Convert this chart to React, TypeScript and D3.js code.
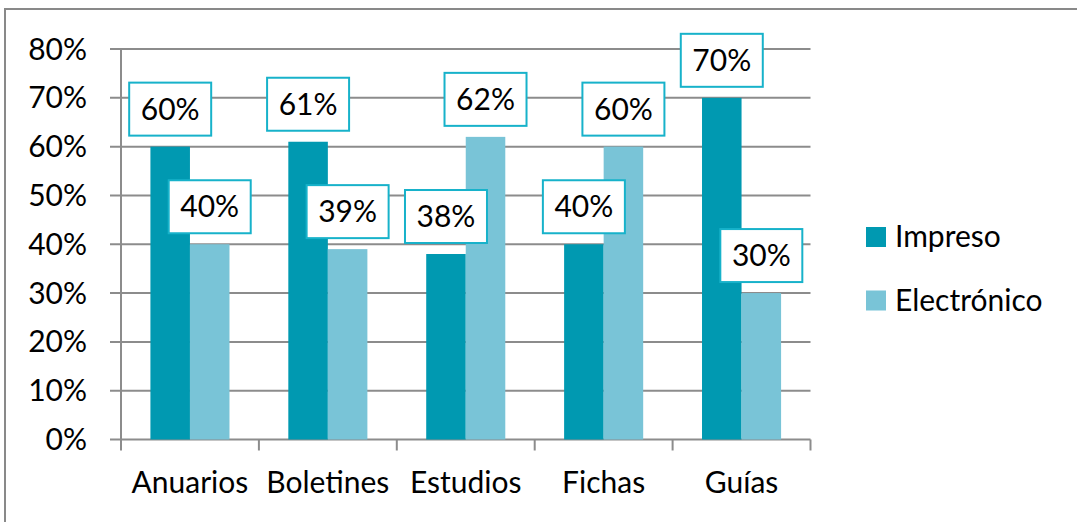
import * as d3 from "d3";

const categories = ["Anuarios", "Boletines", "Estudios", "Fichas", "Guías"];
const seriesNames = ["Impreso", "Electrónico"];
const impreso = [60, 61, 38, 40, 70];
const electronico = [40, 39, 62, 60, 30];
const yTicks = [0, 10, 20, 30, 40, 50, 60, 70, 80];

const colors = ["#0099b1", "#79c4d7"];
const gridColor = "#8c8c8c";
const boxStroke = "#17b2ca";
const font = "Lato, 'Open Sans', sans-serif";
const fontSize = 30;

export default function App() {
  const width = 1077;
  const height = 522;
  const plot = { x1: 121, x2: 810.5, y1: 49, y2: 439.5 };

  const y = d3.scaleLinear().domain([0, 80]).range([plot.y2, plot.y1]);
  const x0 = d3.scaleBand().domain(categories).range([plot.x1, plot.x2]).padding(0);
  const x1 = d3.scaleBand().domain(seriesNames).range([0, x0.bandwidth()])
    .paddingInner(0).paddingOuter(0.744);

  const values = [impreso, electronico];
  const boxW = 82;
  const boxH = 53;
  const boxGap = 11;

  return (
    <svg width={width} height={height} style={{ position: "absolute", left: 0, top: 0, background: "#fff" }}
      fontFamily={font}>
      <rect x={5} y={9} width={1200} height={700} fill="#fff" stroke="#898989" strokeWidth={2} />

      {/* grid + y ticks */}
      {yTicks.map((t) => (
        <g key={t}>
          <line x1={plot.x1 - 11} x2={plot.x2} y1={y(t)} y2={y(t)} stroke={gridColor} strokeWidth={2} />
          <text x={87} y={y(t) + 10.5} textAnchor="end" fontSize={fontSize} fill="#000">{t}%</text>
        </g>
      ))}
      <line x1={plot.x1} x2={plot.x1} y1={plot.y1} y2={plot.y2} stroke={gridColor} strokeWidth={2} />

      {/* x ticks */}
      {[...categories.map((c) => x0(c)!), plot.x2].map((v, i) => (
        <line key={i} x1={v} x2={v} y1={plot.y2} y2={plot.y2 + 11} stroke={gridColor} strokeWidth={2} />
      ))}
      {categories.map((c) => (
        <text key={c} x={x0(c)! + x0.bandwidth() / 2} y={493} textAnchor="middle" fontSize={fontSize} fill="#000">{c}</text>
      ))}

      {/* bars */}
      {seriesNames.map((s, si) => (
        <g key={s}>
          {categories.map((c, ci) => (
            <rect key={c} x={x0(c)! + x1(s)!} y={y(values[si][ci])} width={x1.bandwidth()}
              height={plot.y2 - y(values[si][ci])} fill={colors[si]} />
          ))}
        </g>
      ))}

      {/* data labels */}
      {seriesNames.map((s, si) => (
        <g key={s}>
          {categories.map((c, ci) => {
            const cx = x0(c)! + x1(s)! + x1.bandwidth() / 2;
            const by = y(values[si][ci]) - boxGap - boxH;
            return (
              <g key={c}>
                <rect x={cx - boxW / 2} y={by} width={boxW} height={boxH} fill="#fff" stroke={boxStroke} strokeWidth={2} />
                <text x={cx} y={by + boxH / 2 + 10.5} textAnchor="middle" fontSize={fontSize} fill="#000">{values[si][ci]}%</text>
              </g>
            );
          })}
        </g>
      ))}

      {/* legend */}
      {seriesNames.map((s, si) => (
        <g key={s} transform={`translate(866, ${227 + si * 63.5})`}>
          <rect width={20} height={20} fill={colors[si]} />
          <text x={29} y={20} fontSize={fontSize} fill="#000">{s}</text>
        </g>
      ))}
    </svg>
  );
}
